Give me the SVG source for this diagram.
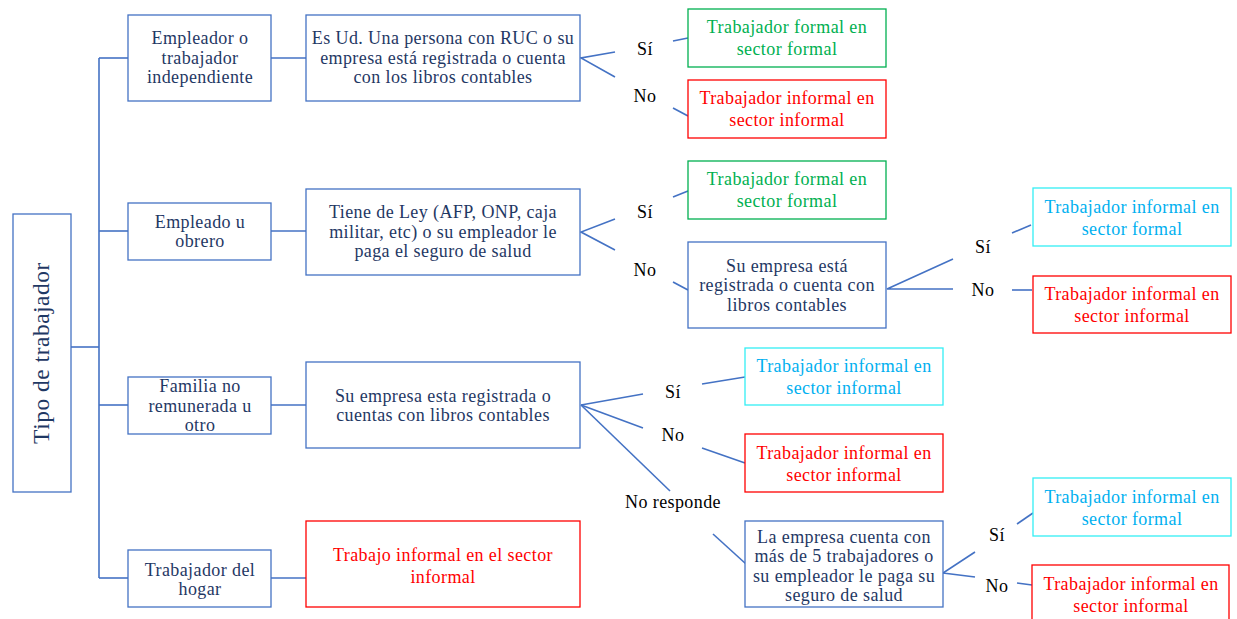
<svg xmlns="http://www.w3.org/2000/svg" width="1237" height="619" viewBox="0 0 1237 619">
<style>
.box{fill:#fff;stroke:#4472C4;stroke-width:1.3}
.g{fill:#fff;stroke:#00B050;stroke-width:1.3}
.r{fill:#fff;stroke:#FF0000;stroke-width:1.3}
.c{fill:#fff;stroke:#33EEF5;stroke-width:1.3}
text{font-family:"Liberation Serif","Times New Roman",serif;font-size:18px;text-anchor:middle;letter-spacing:0.4px}
.t{fill:#1F3864}
.tg{fill:#00B050}
.tr{fill:#FF0000}
.tc{fill:#00B0F0}
.lb{fill:#000}
#connectors line,#connectors polyline{stroke:#4472C4;stroke-width:1.6;fill:none}
</style>
<g id="connectors">
<line x1="71" y1="347" x2="99" y2="347"/>
<line x1="99" y1="58" x2="99" y2="578"/>
<line x1="99" y1="58" x2="128" y2="58"/>
<line x1="99" y1="231" x2="128" y2="231"/>
<line x1="99" y1="405" x2="128" y2="405"/>
<line x1="99" y1="578" x2="128" y2="578"/>
<line x1="271" y1="58" x2="306" y2="58"/>
<line x1="271" y1="231" x2="306" y2="231"/>
<line x1="271" y1="405" x2="306" y2="405"/>
<line x1="271" y1="578" x2="306" y2="578"/>
<polyline points="615,52 581,58 615,77"/>
<line x1="673" y1="41" x2="688" y2="38"/>
<line x1="673" y1="108" x2="688" y2="116"/>
<polyline points="615,219 581,232 615,250"/>
<line x1="673" y1="197" x2="688" y2="191"/>
<line x1="673" y1="282" x2="688" y2="290"/>
<polyline points="953,259 887,289 953,289"/>
<line x1="1012" y1="233" x2="1031" y2="225"/>
<line x1="1012" y1="290" x2="1032" y2="290"/>
<line x1="581" y1="405" x2="643" y2="394"/>
<line x1="581" y1="405" x2="643" y2="428"/>
<line x1="581" y1="405" x2="670" y2="491"/>
<line x1="702" y1="384" x2="745" y2="377"/>
<line x1="702" y1="448" x2="745" y2="463"/>
<line x1="713" y1="534" x2="746" y2="564"/>
<polyline points="975,552 943,573 975,577"/>
<line x1="1017" y1="524" x2="1033" y2="513"/>
<line x1="1017" y1="583" x2="1032" y2="585"/>
</g>
<g id="root"><rect class="box" x="13" y="214" width="58" height="278"/>
<text class="t" transform="translate(49,353) rotate(-90)" style="font-size:23.5px;letter-spacing:0.5px">Tipo de trabajador</text></g>
<g id="n1"><rect class="box" x="128" y="15" width="143" height="86"/>
<text class="t" x="200" y="44">Empleador o</text><text class="t" x="200" y="64">trabajador</text><text class="t" x="200" y="83">independiente</text></g>
<g id="n2"><rect class="box" x="128" y="203" width="143" height="57"/>
<text class="t" x="200" y="228">Empleado u</text><text class="t" x="200" y="247">obrero</text></g>
<g id="n3"><rect class="box" x="128" y="377" width="143" height="57"/>
<text class="t" x="200" y="392">Familia no</text><text class="t" x="200" y="412">remunerada u</text><text class="t" x="200" y="431">otro</text></g>
<g id="n4"><rect class="box" x="128" y="550" width="143" height="57"/>
<text class="t" x="200" y="576">Trabajador del</text><text class="t" x="200" y="595">hogar</text></g>
<g id="q1"><rect class="box" x="306" y="15" width="274" height="86"/>
<text class="t" x="443" y="44">Es Ud. Una persona con RUC o su</text><text class="t" x="443" y="64">empresa está registrada o cuenta</text><text class="t" x="443" y="83">con los libros contables</text></g>
<g id="q2"><rect class="box" x="306" y="189" width="274" height="86"/>
<text class="t" x="443" y="218">Tiene de Ley (AFP, ONP, caja</text><text class="t" x="443" y="238">militar, etc) o su empleador le</text><text class="t" x="443" y="257">paga el seguro de salud</text></g>
<g id="q3"><rect class="box" x="306" y="362" width="274" height="86"/>
<text class="t" x="443" y="402">Su empresa esta registrada o</text><text class="t" x="443" y="421">cuentas con libros contables</text></g>
<g id="n4r"><rect class="r" x="306" y="521" width="274" height="86"/>
<text class="tr" x="443" y="561">Trabajo informal en el sector</text><text class="tr" x="443" y="583">informal</text></g>
<g id="labels">
<text class="lb" x="645" y="55">Sí</text><text class="lb" x="645" y="102">No</text>
<text class="lb" x="645" y="218">Sí</text><text class="lb" x="645" y="276">No</text>
<text class="lb" x="983" y="253">Sí</text><text class="lb" x="983" y="296">No</text>
<text class="lb" x="673" y="398">Sí</text><text class="lb" x="673" y="441">No</text><text class="lb" x="673" y="508">No responde</text>
<text class="lb" x="997" y="541">Sí</text><text class="lb" x="997" y="592">No</text>
</g>
<g id="f1"><rect class="g" x="688" y="9" width="198" height="58"/>
<text class="tg" x="787" y="33">Trabajador formal en</text><text class="tg" x="787" y="55">sector formal</text></g>
<g id="f2"><rect class="r" x="688" y="80" width="198" height="58"/>
<text class="tr" x="787" y="104">Trabajador informal en</text><text class="tr" x="787" y="126">sector informal</text></g>
<g id="f3"><rect class="g" x="688" y="161" width="198" height="58"/>
<text class="tg" x="787" y="185">Trabajador formal en</text><text class="tg" x="787" y="207">sector formal</text></g>
<g id="q4"><rect class="box" x="688" y="242" width="198" height="86"/>
<text class="t" x="787" y="272">Su empresa está</text><text class="t" x="787" y="291">registrada o cuenta con</text><text class="t" x="787" y="311">libros contables</text></g>
<g id="f4"><rect class="c" x="1033" y="188" width="198" height="58"/>
<text class="tc" x="1132" y="213">Trabajador informal en</text><text class="tc" x="1132" y="235">sector formal</text></g>
<g id="f5"><rect class="r" x="1033" y="276" width="198" height="57"/>
<text class="tr" x="1132" y="300">Trabajador informal en</text><text class="tr" x="1132" y="322">sector informal</text></g>
<g id="f6"><rect class="c" x="745" y="348" width="198" height="57"/>
<text class="tc" x="844" y="372">Trabajador informal en</text><text class="tc" x="844" y="394">sector informal</text></g>
<g id="f7"><rect class="r" x="745" y="434" width="198" height="58"/>
<text class="tr" x="844" y="459">Trabajador informal en</text><text class="tr" x="844" y="481">sector informal</text></g>
<g id="q5"><rect class="box" x="745" y="521" width="198" height="86"/>
<text class="t" x="844" y="543">La empresa cuenta con</text><text class="t" x="844" y="562">más de 5 trabajadores o</text><text class="t" x="844" y="582">su empleador le paga su</text><text class="t" x="844" y="601">seguro de salud</text></g>
<g id="f8"><rect class="c" x="1033" y="478" width="198" height="58"/>
<text class="tc" x="1132" y="503">Trabajador informal en</text><text class="tc" x="1132" y="525">sector formal</text></g>
<g id="f9"><rect class="r" x="1032" y="565" width="197" height="60"/>
<text class="tr" x="1131" y="590">Trabajador informal en</text><text class="tr" x="1131" y="612">sector informal</text></g>
</svg>
